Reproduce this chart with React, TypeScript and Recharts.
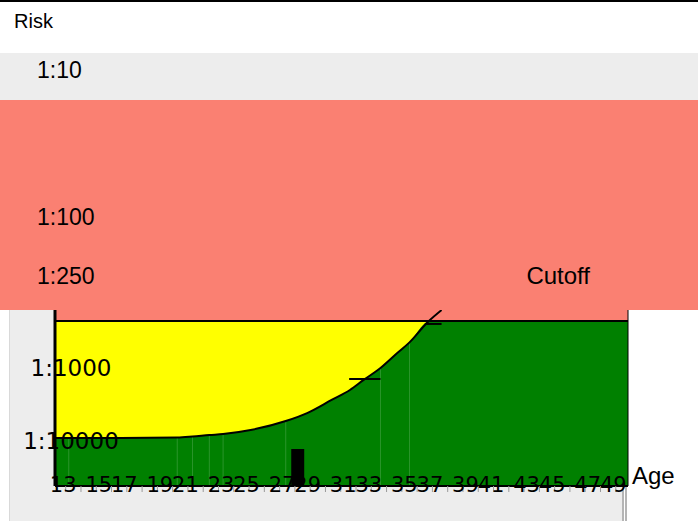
import {
  ComposedChart,
  Area,
  Line,
  XAxis,
  YAxis,
  ReferenceArea,
  ReferenceLine,
} from 'recharts'

// risk is kept as the N of "1:N", both y axes work on log10(N)
const AGES = [12.3, 13.2, 16.6, 20.3, 21.3, 22.4, 23.3, 25.1, 27.4, 28.8, 30.4, 31.6, 32.5, 33.6, 34.7, 35.5, 36.7, 37.6]
const RISK = [10000, 10000, 10000, 9840, 9540, 9100, 8820, 7770, 5850, 4550, 3010, 2200, 1600, 1100, 685, 490, 258, 177]

// faint joins in the green fill
const SEAM_AGES = [13.2, 20.3, 21.3, 22.4, 23.3, 27.4, 33.6, 35.5]

const MARKERS = [
  { from: 31.55, to: 33.6, risk: 1555 },
  { from: 36.5, to: 37.6, risk: 274 },
]
const PATIENT = { from: 27.76, to: 28.61, risk: 14150 }

const CUTOFF = 250
const AGE_TICKS = [13, 14, 15, 16, 17, 18, 19, 20, 21, 22, 23, 24, 25, 26, 27, 28, 29, 30, 31, 32, 33, 34, 35, 36, 37, 38, 39, 40, 41, 42, 43, 44, 45, 46, 47, 48, 49]
const LOWER_TICKS = [1000, 10000]
const UPPER_TICKS = [10, 100, 250]

const lg = (n: number) => Math.log10(n)

const X_DOMAIN = [12.3, 49.8]
const LOWER_DOMAIN = [lg(176.5), lg(45430)]
const UPPER_DOMAIN = [lg(429), lg(6760)]

const SANS = '"Liberation Sans", Arial, sans-serif'
const WIDE = '"DejaVu Sans", Verdana, sans-serif'

const data = AGES.map((age, i) => ({
  age,
  risk: lg(RISK[i]),
  band: Math.max(lg(RISK[i]), lg(CUTOFF)),
}))

const riskText = (v: number) => `1:${Math.round(10 ** v)}`

function AgeTick({ x, y, payload }: any) {
  const n = (payload.value - 13) / 2
  if (!Number.isInteger(n)) return <g />
  return (
    <text x={x + (n % 2 === 0 ? -2.5 : 2.5)} y={y} textAnchor="middle" fontSize={21} fontFamily={WIDE} fill="#000">
      {payload.value}
    </text>
  )
}

function LowerTick({ x, y, payload }: any) {
  return (
    <text x={x + 16} y={y + 11} textAnchor="middle" fontSize={23} fontFamily={WIDE} fill="#000">
      {riskText(payload.value)}
    </text>
  )
}

const abs = (left: number, top: number, width: number, height: number, background: string) => ({
  position: 'absolute' as const,
  left,
  top,
  width,
  height,
  background,
})

export default function App() {
  return (
    <div style={{ position: 'absolute', left: 0, top: 0, width: 698, height: 521, background: '#fff', overflow: 'hidden', fontFamily: SANS }}>
      <div style={abs(0, 0, 698, 2, '#000')} />
      <div style={{ position: 'absolute', left: 14, top: 9, fontSize: 20, lineHeight: '24px', color: '#000' }}>Risk</div>
      <div style={abs(0, 53, 698, 47, '#ededed')} />
      <div style={abs(0, 100, 698, 210, '#fa8072')} />
      <div style={abs(9, 310, 1, 211, '#d9d9d9')} />
      <div style={abs(10, 310, 612, 211, '#ededed')} />
      <div style={abs(622, 486, 2, 35, '#b5b5b5')} />
      <div style={abs(625, 486, 2, 35, '#b5b5b5')} />

      <div style={{ position: 'absolute', left: 0, top: 0 }}>
        <ComposedChart width={698} height={521} data={data} margin={{ top: 310, right: 70, bottom: 0, left: 0 }}>
          <XAxis
            dataKey="age"
            type="number"
            domain={X_DOMAIN}
            allowDataOverflow
            ticks={AGE_TICKS}
            interval={0}
            height={35}
            tickSize={6}
            tickMargin={0}
            tickLine={{ stroke: '#999' }}
            axisLine={{ stroke: '#000', strokeWidth: 2 }}
            tick={AgeTick}
            zIndex={9}
            label={{
              content: (p: any) => (
                <text x={p.viewBox.x + p.viewBox.width + 4} y={p.viewBox.y - 2} fontSize={24} fontFamily={SANS} fill="#000">
                  Age
                </text>
              ),
            }}
          />
          <YAxis
            yAxisId="lower"
            type="number"
            domain={LOWER_DOMAIN}
            reversed
            allowDataOverflow
            ticks={LOWER_TICKS.map(lg)}
            interval={0}
            width={55}
            tickSize={0}
            tickMargin={0}
            tickLine={false}
            axisLine={{ stroke: '#000', strokeWidth: 3 }}
            tick={LowerTick}
            zIndex={8}
          />
          <YAxis
            yAxisId="upper"
            orientation="right"
            type="number"
            domain={UPPER_DOMAIN}
            reversed
            allowDataOverflow
            width={0}
            tick={false}
            tickLine={false}
            axisLine={false}
          />

          <ReferenceArea yAxisId="lower" y1={LOWER_DOMAIN[0]} y2={lg(CUTOFF)} fill="#fa8072" fillOpacity={1} stroke="none" zIndex={1} />
          <ReferenceArea yAxisId="lower" y1={lg(CUTOFF)} y2={LOWER_DOMAIN[1]} fill="#008000" fillOpacity={1} stroke="none" zIndex={2} />

          {SEAM_AGES.map((age) => (
            <ReferenceLine
              key={age}
              yAxisId="lower"
              ifOverflow="visible"
              segment={[
                { x: age, y: lg(RISK[AGES.indexOf(age)]) },
                { x: age, y: LOWER_DOMAIN[1] },
              ]}
              stroke="#2a952a"
              strokeWidth={1}
              zIndex={3}
            />
          ))}

          <Area
            yAxisId="lower"
            type="monotone"
            dataKey="band"
            baseValue={lg(CUTOFF)}
            fill="#ffff00"
            fillOpacity={1}
            stroke="none"
            isAnimationActive={false}
            zIndex={4}
          />
          <Line
            yAxisId="lower"
            type="monotone"
            dataKey="risk"
            stroke="#000"
            strokeWidth={2}
            dot={false}
            activeDot={false}
            isAnimationActive={false}
            zIndex={5}
          />

          <ReferenceLine yAxisId="lower" y={lg(CUTOFF)} stroke="#000" strokeWidth={2} zIndex={6} />
          <ReferenceLine yAxisId="lower" x={X_DOMAIN[1]} ifOverflow="visible" stroke="#000" strokeWidth={1} zIndex={6} />

          {MARKERS.map((m) => (
            <ReferenceLine
              key={m.from}
              yAxisId="lower"
              ifOverflow="visible"
              segment={[
                { x: m.from, y: lg(m.risk) },
                { x: m.to, y: lg(m.risk) },
              ]}
              stroke="#000"
              strokeWidth={2}
              zIndex={7}
            />
          ))}

          <ReferenceArea
            yAxisId="lower"
            x1={PATIENT.from}
            x2={PATIENT.to}
            y1={lg(PATIENT.risk)}
            y2={LOWER_DOMAIN[1]}
            fill="#000"
            fillOpacity={1}
            stroke="none"
            zIndex={10}
          />

          {/* the band labels sit on their own, coarser log scale */}
          {UPPER_TICKS.map((n) => (
            <ReferenceLine
              key={n}
              yAxisId="upper"
              y={lg(n)}
              ifOverflow="visible"
              stroke="none"
              zIndex={11}
              label={{ value: `1:${n}`, position: 'insideLeft', offset: -18, fontSize: 23, fontFamily: SANS, fill: '#000' }}
            />
          ))}
          <ReferenceLine
            yAxisId="upper"
            y={lg(CUTOFF)}
            ifOverflow="visible"
            stroke="none"
            zIndex={11}
            label={{ value: 'Cutoff', position: 'insideRight', offset: 38, fontSize: 24, fontFamily: SANS, fill: '#000' }}
          />
        </ComposedChart>
      </div>
    </div>
  )
}
